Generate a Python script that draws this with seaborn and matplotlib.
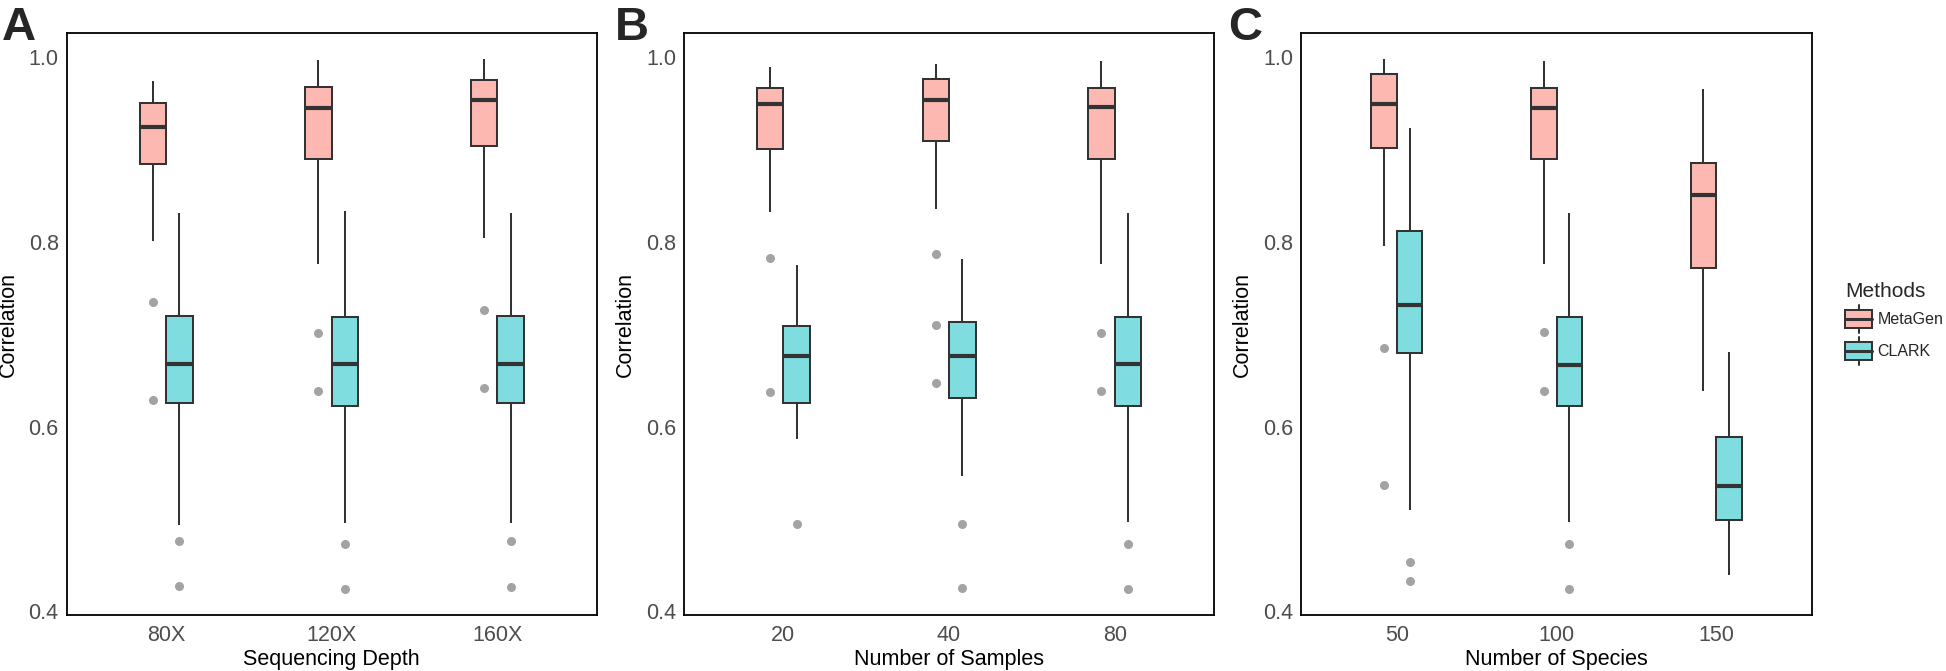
import numpy as np
import pandas as pd
import matplotlib
matplotlib.use('Agg')
import matplotlib.pyplot as plt
import seaborn as sns
from matplotlib.legend_handler import HandlerBase
from matplotlib.patches import Rectangle, Patch
from matplotlib.lines import Line2D

sns.set_style('white')
plt.rcParams['font.family'] = ['Liberation Sans', 'DejaVu Sans']

methods = ['MetaGen', 'CLARK']
palette = {'MetaGen': '#FCB8B1', 'CLARK': '#7FDDE0'}

# box stats per category: [lower whisker, Q1, median, Q3, upper whisker]
depth_labels = ['80X', '120X', '160X']
depth_metagen = [[0.801, 0.884, 0.924, 0.950, 0.974],
                 [0.776, 0.890, 0.945, 0.968, 0.997],
                 [0.804, 0.904, 0.954, 0.975, 0.998]]
depth_metagen_out = [[0.735, 0.629], [0.701, 0.638], [0.726, 0.642]]
depth_clark = [[0.493, 0.625, 0.668, 0.720, 0.831],
               [0.496, 0.622, 0.668, 0.719, 0.833],
               [0.496, 0.625, 0.668, 0.720, 0.831]]
depth_clark_out = [[0.476, 0.427], [0.473, 0.424], [0.476, 0.426]]

sample_labels = ['20', '40', '80']
sample_metagen = [[0.832, 0.900, 0.949, 0.967, 0.989],
                  [0.836, 0.909, 0.953, 0.976, 0.992],
                  [0.776, 0.890, 0.946, 0.967, 0.996]]
sample_metagen_out = [[0.782, 0.637], [0.787, 0.710, 0.647], [0.701, 0.638]]
sample_clark = [[0.587, 0.625, 0.676, 0.709, 0.775],
                [0.547, 0.631, 0.676, 0.713, 0.781],
                [0.497, 0.622, 0.668, 0.719, 0.831]]
sample_clark_out = [[0.495], [0.495, 0.425], [0.473, 0.424]]

species_labels = ['50', '100', '150']
species_metagen = [[0.795, 0.901, 0.949, 0.982, 0.998],
                   [0.776, 0.890, 0.945, 0.967, 0.996],
                   [0.639, 0.772, 0.851, 0.885, 0.965]]
species_metagen_out = [[0.685, 0.537], [0.702, 0.638], []]
species_clark = [[0.510, 0.680, 0.732, 0.812, 0.923],
                 [0.497, 0.622, 0.667, 0.719, 0.831],
                 [0.439, 0.499, 0.536, 0.589, 0.681]]
species_clark_out = [[0.453, 0.433], [0.473, 0.424], []]

line_col = '#333333'


def pinned_values(stats, outliers):
    # repeat the read values so the quartiles land exactly on them
    lo, q1, med, q3, hi = stats
    m = len(outliers)
    k = m + 1
    return sorted(outliers) + [lo] + [q1] + [med] * k + [q3] * (2 * k - 1) + [hi]


def make_df(labels, mg, mg_out, cl, cl_out):
    rows = []
    for i, lab in enumerate(labels):
        for v in pinned_values(mg[i], mg_out[i]):
            rows.append((lab, 'MetaGen', v))
        for v in pinned_values(cl[i], cl_out[i]):
            rows.append((lab, 'CLARK', v))
    return pd.DataFrame(rows, columns=['group', 'Methods', 'Correlation'])


panels = [
    ('A', 'Sequencing Depth', depth_labels,
     make_df(depth_labels, depth_metagen, depth_metagen_out, depth_clark, depth_clark_out)),
    ('B', 'Number of Samples', sample_labels,
     make_df(sample_labels, sample_metagen, sample_metagen_out, sample_clark, sample_clark_out)),
    ('C', 'Number of Species', species_labels,
     make_df(species_labels, species_metagen, species_metagen_out, species_clark, species_clark_out)),
]

W, H = 1946, 671
fig = plt.figure(figsize=(W / 100, H / 100), dpi=100)

# axes boxes in pixels: left, right ; letter x
boxes = [(66.7, 596.7, 2), (684, 1214, 615), (1301, 1812, 1228)]
top_px, bot_px = 33, 615

for (letter, xlabel, labels, df), (l, r, lx) in zip(panels, boxes):
    ax = fig.add_axes([l / W, 1 - bot_px / H, (r - l) / W, (bot_px - top_px) / H])
    sns.boxplot(data=df, x='group', y='Correlation', hue='Methods', order=labels,
                hue_order=methods, palette=palette, saturation=1, width=0.32, gap=0,
                linewidth=1.45, linecolor=line_col, showcaps=False, whis=1.5,
                fliersize=6.5,
                flierprops=dict(marker='o', markerfacecolor='#A3A3A3', markeredgecolor='none'),
                medianprops=dict(linewidth=3.0, color=line_col),
                legend=False, ax=ax)
    ax.set_xlim(-0.6, 2.6)
    ax.set_ylim(0.396, 1.026)
    ax.set_yticks([0.4, 0.6, 0.8, 1.0])
    ax.set_yticklabels(['0.4', '0.6', '0.8', '1.0'])
    ax.tick_params(axis='both', length=4.3, width=1.2, color=line_col,
                   labelcolor='#4D4D4D', labelsize=15.5, pad=1.5)
    ax.tick_params(axis='x', pad=3)
    for s in ax.spines.values():
        s.set_visible(True)
        s.set_color('black')
        s.set_linewidth(1.3)
    ax.set_xlabel(xlabel, fontsize=15.5, color='black', labelpad=2)
    ax.set_ylabel('Correlation', fontsize=15.5, color='black')
    ax.yaxis.set_label_coords(-48 / (r - l), 0.5)
    fig.text(lx / W, 1 - 40 / H, letter, fontsize=34, fontweight='bold',
             ha='left', va='baseline')


class BoxHandler(HandlerBase):
    def create_artists(self, legend, orig_handle, xdescent, ydescent,
                       width, height, fontsize, trans):
        fc = orig_handle.get_facecolor()
        x0, y0 = -xdescent, -ydescent
        bh = height * 0.64
        by = y0 + (height - bh) / 2
        cx = x0 + width / 2
        rect = Rectangle((x0, by), width, bh, facecolor=fc, edgecolor=line_col,
                         lw=1.45, transform=trans)
        w1 = Line2D([cx, cx], [y0, by], color=line_col, lw=1.45, transform=trans)
        w2 = Line2D([cx, cx], [by + bh, y0 + height], color=line_col, lw=1.45, transform=trans)
        med = Line2D([x0, x0 + width], [y0 + height / 2] * 2, color=line_col, lw=2.2,
                     transform=trans)
        return [w1, w2, rect, med]


handles = [Patch(facecolor=palette[m], edgecolor=line_col) for m in methods]
leg = fig.legend(handles, methods, title='Methods', loc='upper left',
                 bbox_to_anchor=(1845 / W, 1 - 282 / H), frameon=False,
                 fontsize=11.5, title_fontsize=15, borderpad=0, borderaxespad=0,
                 handlelength=1.7, handleheight=2.3, handletextpad=0.35,
                 labelspacing=0.25, alignment='left',
                 handler_map={Patch: BoxHandler()})

fig.savefig('out.png', dpi=100)
